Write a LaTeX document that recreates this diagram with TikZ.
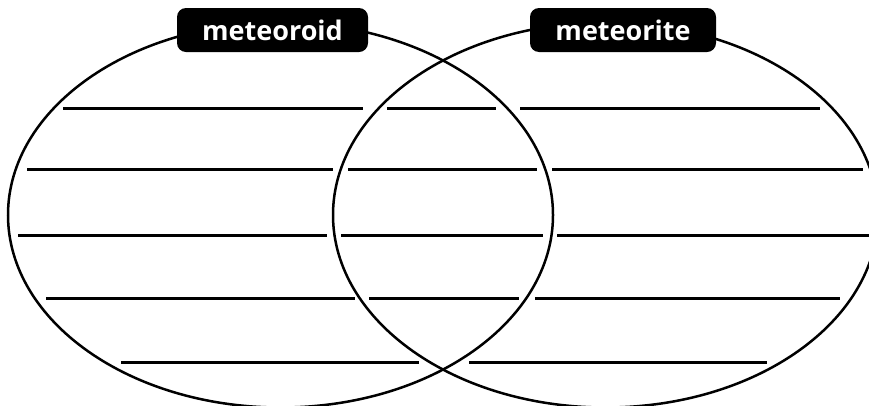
\documentclass[tikz,border=0pt]{standalone}
\usepackage{fontspec}
\setsansfont{Open Sans}
\usetikzlibrary{shapes.geometric}
\begin{document}
\begin{tikzpicture}[x=1pt,y=-1pt,
  circ/.style={draw,ellipse,line width=2.5pt,minimum width=545pt,minimum height=385pt,inner sep=0pt},
  wline/.style={line width=3pt},
  tag/.style={fill=black,text=white,rounded corners=9pt,inner sep=0pt,minimum height=44pt,font=\sffamily\bfseries\fontsize{27}{27}\selectfont}]
\useasboundingbox (0,0) rectangle (869,405);
\begin{scope}
\clip (0,0) rectangle (869,405);
\node[circ] (L) at (280.5,215) {};
\node[circ] (R) at (605.5,215) {};
\end{scope}
% writing lines
\foreach \a/\b/\y in {63/363/108, 387/496/108, 520/820/108,
  27/333/169, 348/537/169, 552/863/169,
  18/327/235, 341/543/235, 557/869/235,
  46/355/298, 369/519/298, 535/840/298,
  121/419/362, 469/767/362}
  \draw[wline] (\a,\y) -- (\b,\y);
\node[tag,minimum width=191pt] (t1) at (272.5,30) {meteoroid};
\node[tag,minimum width=186pt] (t2) at (623,30) {meteorite};
\end{tikzpicture}
\end{document}
